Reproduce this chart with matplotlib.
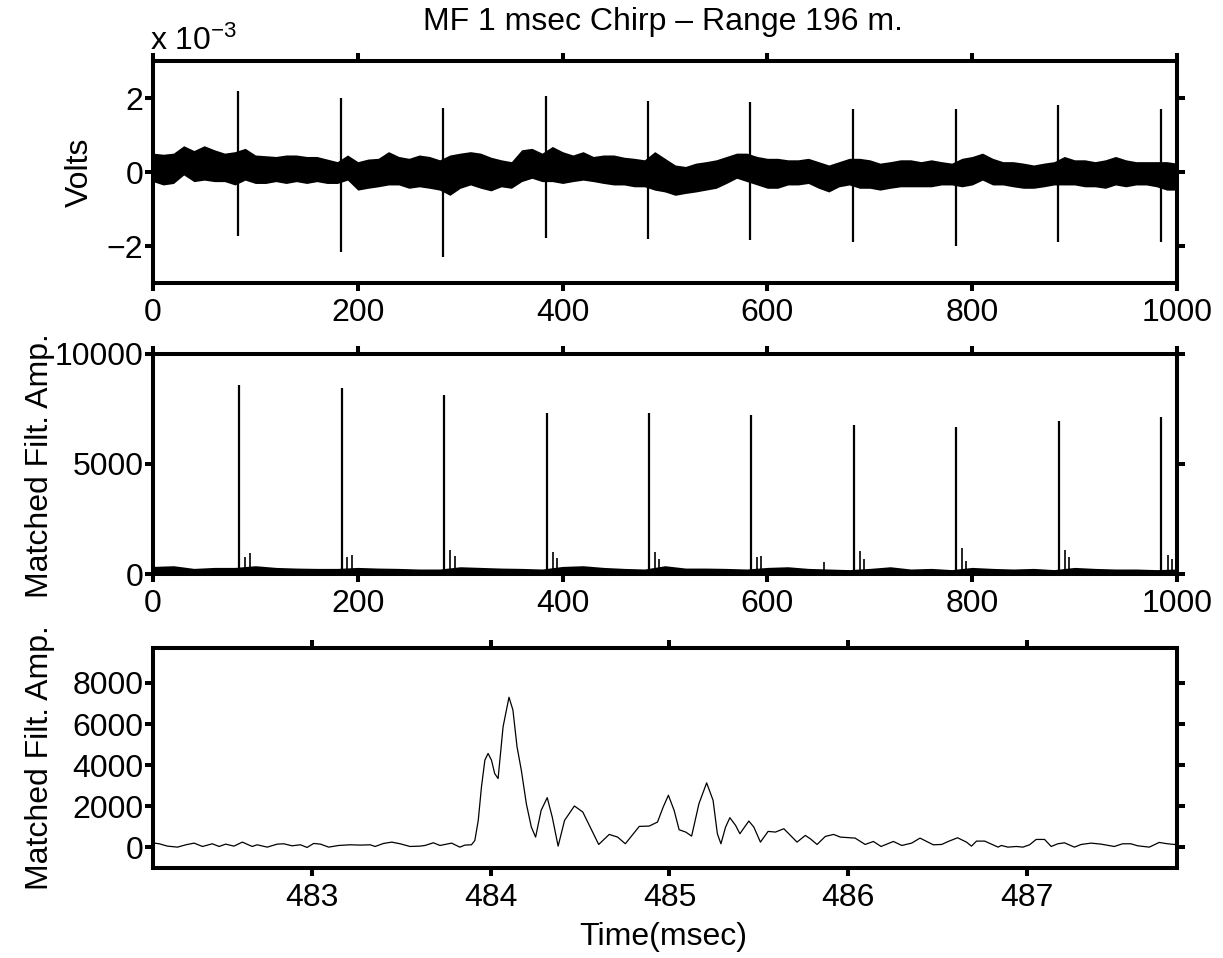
import numpy as np
import matplotlib
matplotlib.use("Agg")
import matplotlib.pyplot as plt

plt.rcParams['font.family'] = ['Liberation Sans', 'DejaVu Sans']
plt.rcParams['mathtext.fontset'] = 'custom'
plt.rcParams['mathtext.rm'] = 'Liberation Sans'
plt.rcParams['mathtext.it'] = 'Liberation Sans'
FS = 23

# ---- panel 1: raw signal (mV), envelope of the noise band every 10 ms
raw_t = np.arange(0, 1001, 10)
raw_hi = [0.51, 0.48, 0.51, 0.71, 0.58, 0.71, 0.60, 0.51, 0.55, 0.64,
          0.46, 0.44, 0.42, 0.46, 0.46, 0.42, 0.42, 0.35, 0.28, 0.46,
          0.28, 0.35, 0.37, 0.55, 0.42, 0.37, 0.46, 0.42, 0.33, 0.46,
          0.51, 0.55, 0.51, 0.40, 0.33, 0.28, 0.60, 0.64, 0.51, 0.69,
          0.55, 0.46, 0.55, 0.42, 0.46, 0.46, 0.40, 0.37, 0.33, 0.55,
          0.37, 0.19, 0.15, 0.24, 0.28, 0.33, 0.42, 0.51, 0.51, 0.42,
          0.37, 0.37, 0.33, 0.33, 0.37, 0.28, 0.19, 0.28, 0.37, 0.37,
          0.33, 0.24, 0.28, 0.33, 0.33, 0.28, 0.33, 0.28, 0.24, 0.37,
          0.42, 0.51, 0.37, 0.28, 0.28, 0.24, 0.19, 0.24, 0.28, 0.42,
          0.33, 0.33, 0.28, 0.33, 0.42, 0.33, 0.28, 0.28, 0.28, 0.28,
          0.24]
raw_lo = [-0.26, -0.35, -0.31, -0.08, -0.26, -0.22, -0.26, -0.26, -0.35, -0.22,
          -0.31, -0.31, -0.26, -0.31, -0.26, -0.31, -0.26, -0.31, -0.31, -0.22,
          -0.49, -0.44, -0.40, -0.35, -0.35, -0.44, -0.40, -0.44, -0.49, -0.63,
          -0.44, -0.35, -0.44, -0.51, -0.40, -0.44, -0.26, -0.17, -0.26, -0.26,
          -0.31, -0.26, -0.22, -0.26, -0.31, -0.35, -0.35, -0.40, -0.40, -0.49,
          -0.54, -0.63, -0.58, -0.54, -0.49, -0.44, -0.31, -0.17, -0.26, -0.35,
          -0.44, -0.44, -0.35, -0.35, -0.31, -0.44, -0.54, -0.40, -0.35, -0.44,
          -0.44, -0.49, -0.44, -0.40, -0.40, -0.40, -0.40, -0.35, -0.35, -0.40,
          -0.35, -0.22, -0.35, -0.35, -0.40, -0.44, -0.44, -0.40, -0.35, -0.35,
          -0.35, -0.40, -0.40, -0.44, -0.35, -0.40, -0.35, -0.35, -0.40, -0.49,
          -0.49]
raw_spike_t = [83.3, 183.4, 283.6, 383.4, 483.2, 583.4, 683.6, 783.7, 884.2, 984.0]
raw_spike_max = [2.18, 1.99, 1.73, 2.05, 1.93, 1.90, 1.69, 1.69, 1.80, 1.69]
raw_spike_min = [-1.72, -2.15, -2.30, -1.78, -1.80, -1.85, -1.88, -1.99, -1.88, -1.88]

# ---- panel 2: matched filter output over the full record
mf_t = np.arange(0, 1001, 20)
mf_hi = [345, 377, 255, 300, 300, 377, 300, 270, 255, 255,
         300, 270, 255, 227, 227, 330, 300, 270, 255, 227,
         345, 377, 300, 255, 227, 377, 270, 270, 255, 227,
         300, 330, 255, 227, 200, 255, 330, 227, 255, 200,
         300, 255, 227, 255, 200, 300, 255, 227, 227, 200,
         227]
mf_peak_t = [84.2, 184.1, 284.2, 384.3, 484.1, 584.3, 684.2, 784.4, 884.5, 984.6]
mf_peak = [8600, 8450, 8140, 7320, 7300, 7230, 6770, 6680, 6950, 7150]
mf_echo_t = [90.0, 94.6, 189.9, 194.8, 290.0, 294.6, 390.5, 394.8, 490.4, 494.6,
             590.0, 594.2, 655.0, 690.0, 694.2, 790.2, 794.1, 890.2, 894.8, 990.9, 995.4]
mf_echo = [770, 955, 790, 860, 1100, 800, 1015, 725, 1000, 680,
           770, 820, 540, 1045, 680, 1180, 600, 1090, 790, 860, 680]

# ---- panel 3: zoom on the 5th ping
zm_t = [482.117, 482.145, 482.191, 482.247, 482.294, 482.340, 482.387, 482.442,
        482.480, 482.517, 482.563, 482.610, 482.665, 482.693, 482.749, 482.805,
        482.842, 482.888, 482.935, 482.972, 483.009, 483.047, 483.093, 483.149,
        483.214, 483.270, 483.325, 483.353, 483.400, 483.446, 483.493, 483.548,
        483.604, 483.632, 483.679, 483.716, 483.781, 483.827, 483.855, 483.892,
        483.911, 483.930, 483.948, 483.967, 483.985, 484.004, 484.022, 484.041,
        484.069, 484.102, 484.124, 484.147, 484.171, 484.199, 484.227, 484.251,
        484.282, 484.316, 484.344, 484.377, 484.413, 484.468, 484.515, 484.561,
        484.604, 484.663, 484.710, 484.753, 484.831, 484.887, 484.933, 484.965,
        484.994, 485.026, 485.054, 485.091, 485.124, 485.165, 485.208, 485.244,
        485.268, 485.288, 485.314, 485.338, 485.370, 485.394, 485.444, 485.472,
        485.509, 485.552, 485.593, 485.640, 485.677, 485.714, 485.760, 485.788,
        485.826, 485.872, 485.918, 485.956, 486.039, 486.095, 486.141, 486.184,
        486.253, 486.300, 486.355, 486.402, 486.476, 486.523, 486.560, 486.612,
        486.662, 486.690, 486.718, 486.764, 486.839, 486.857, 486.894, 486.941,
        486.978, 487.015, 487.052, 487.099, 487.136, 487.173, 487.210, 487.266,
        487.304, 487.359, 487.415, 487.489, 487.536, 487.582, 487.620, 487.685,
        487.740, 487.787, 487.824, 487.850]
zm_amp = [210, 178, 64, 15, 129, 210, 47, 178,
          47, 161, 64, 259, 47, 129, 15, 161,
          178, 80, 129, 0, 194, 161, 15, 96,
          129, 113, 129, 47, 194, 259, 178, 47,
          64, 96, 226, 96, 210, 15, 113, 129,
          340, 1316, 2943, 4245, 4571, 4245, 3594, 3350,
          5872, 7304, 6685, 4896, 3757, 2130, 991, 503,
          1805, 2423, 1479, 64, 1316, 2016, 1723, 910,
          145, 633, 503, 178, 1023, 1040, 1235, 1967,
          2537, 1805, 861, 747, 552, 2130, 3139, 2293,
          666, 178, 991, 1446, 1072, 666, 1284, 991,
          259, 780, 747, 910, 584, 259, 584, 422,
          145, 535, 633, 503, 454, 145, 291, 47,
          291, 96, 210, 454, 129, 145, 291, 470,
          259, 64, 308, 308, 15, 96, 15, 47,
          15, 129, 389, 389, 47, 178, 226, 15,
          145, 210, 161, 47, 178, 178, 80, 15,
          243, 178, 145, 150]

fig = plt.figure(figsize=(12.23, 9.58), dpi=100)
L, W = 153 / 1223, 1024 / 1223
ax1 = fig.add_axes([L, 1 - 283 / 958, W, 222 / 958])
ax2 = fig.add_axes([L, 1 - 574 / 958, W, 220 / 958])
ax3 = fig.add_axes([L, 1 - 868 / 958, W, 220 / 958])

ax1.fill_between(raw_t, raw_lo, raw_hi, color='k', lw=0)
ax1.vlines(raw_spike_t, raw_spike_min, raw_spike_max, color='k', lw=1.6)
ax1.set_xlim(0, 1000)
ax1.set_ylim(-3, 3)
ax1.set_xticks(range(0, 1001, 200))
ax1.set_yticks([-2, 0, 2])

ax2.fill_between(mf_t, 0, mf_hi, color='k', lw=0)
ax2.vlines(mf_peak_t, 0, mf_peak, color='k', lw=1.6)
ax2.vlines(mf_echo_t, 0, mf_echo, color='k', lw=1.2)
ax2.set_xlim(0, 1000)
ax2.set_ylim(0, 10000)
ax2.set_xticks(range(0, 1001, 200))
ax2.set_yticks([0, 5000, 10000])

ax3.plot(zm_t, zm_amp, color='k', lw=0.9)
ax3.set_xlim(482.11, 487.84)
ax3.set_ylim(-1000, 9700)
ax3.set_xticks([483, 484, 485, 486, 487])
ax3.set_yticks([0, 2000, 4000, 6000, 8000])

for ax in (ax1, ax2, ax3):
    for s in ax.spines.values():
        s.set_linewidth(2.9)
    ax.tick_params(direction='out', length=6, width=2.9, labelsize=FS,
                   top=True, right=True)
    ax.tick_params(axis='x', pad=5)
    ax.tick_params(axis='y', pad=1)

fig.text(663 / 1223, 1 - 22 / 958, 'MF 1 msec Chirp \u2013 Range 196 m.',
         ha='center', va='center', fontsize=FS)
fig.text(150 / 1223, 1 - 50 / 958, r'x 10$^{\mathregular{-3}}$', ha='left',
         va='baseline', fontsize=FS)
fig.text(80 / 1223, 1 - 172 / 958, 'Volts', rotation=90, ha='center',
         va='center', fontsize=FS)
fig.text(40 / 1223, 1 - 466 / 958, 'Matched Filt. Amp.', rotation=90,
         ha='center', va='center', fontsize=FS)
fig.text(40 / 1223, 1 - 758 / 958, 'Matched Filt. Amp.', rotation=90,
         ha='center', va='center', fontsize=FS)
fig.text(663 / 1223, 1 - 937 / 958, 'Time(msec)', ha='center', va='center',
         fontsize=FS)

fig.savefig('out.png', dpi=100)
